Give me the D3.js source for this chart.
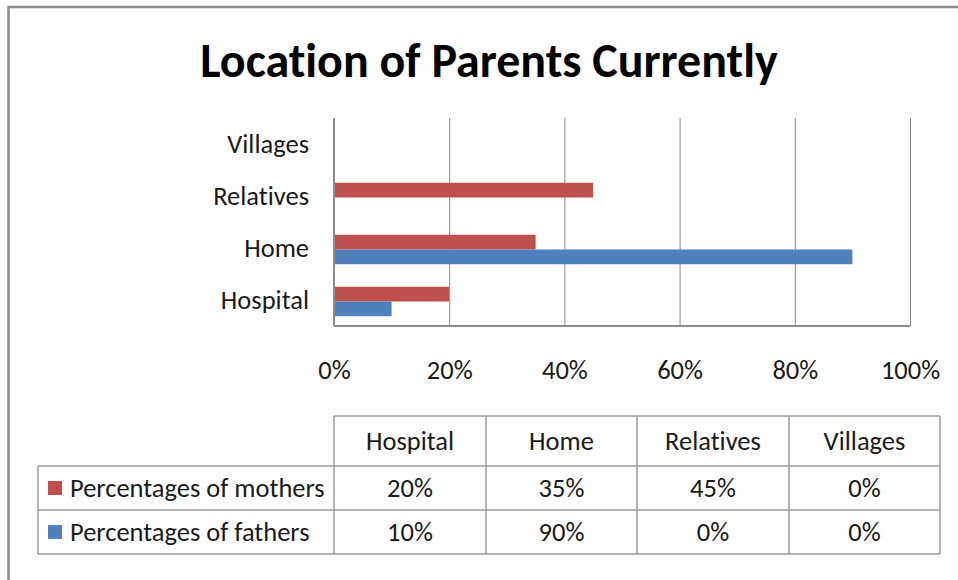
<!DOCTYPE html>
<html>
<head>
<meta charset="utf-8">
<script src="https://cdn.jsdelivr.net/npm/d3@7"></script>
<style>
    body { margin: 0; background: #fff; }
    svg text {
        font-family: "Carlito", "Liberation Sans Narrow", "Roboto", sans-serif;
        fill: #1a1a1a;
        font-variant-ligatures: none;
    }
</style>
</head>
<body>
<div id="chart"></div>
<script>
// Data
const categories = ['Hospital', 'Home', 'Relatives', 'Villages'];
const seriesNames = ['Percentages of mothers', 'Percentages of fathers'];
const mothers = [20, 35, 45, 0];
const fathers = [10, 90, 0, 0];
const xTicks = [0, 20, 40, 60, 80, 100];
const colors = ['#C0504D', '#4F81BD'];

function draw() {
    const dimensions = {
        width: 958,
        height: 580,
        plot: { left: 334, right: 910, top: 118, bottom: 326 },
        table: { cols: [38, 334, 486, 637, 789, 940], rows: [416, 466, 510, 554] },
    };
    const p = dimensions.plot;
    const series = [mothers, fathers];
    const fontSize = '26.5px';

    const svg = d3
        .select('#chart')
        .append('svg')
        .attr('width', dimensions.width)
        .attr('height', dimensions.height);

    // outer frame (right/bottom edges run off the picture)
    svg.append('rect')
        .attr('x', 8.5)
        .attr('y', 7)
        .attr('width', 1000)
        .attr('height', 600)
        .attr('fill', 'none')
        .attr('stroke', '#8c8c8c')
        .attr('stroke-width', 2.5);

    // Title
    svg.append('text')
        .attr('x', 489)
        .attr('y', 77)
        .attr('text-anchor', 'middle')
        .style('font-size', '48px')
        .style('font-weight', 'bold')
        .style('fill', '#000')
        .text('Location of Parents Currently');

    // Scales
    const xScale = d3.scaleLinear().domain([0, 100]).range([p.left, p.right]);
    const yScale = d3.scaleBand()
        .domain(categories.slice().reverse())
        .range([p.top + 1.5, p.bottom + 1.5]);
    const inner = d3.scaleBand()
        .domain([0, 1])
        .range([0, 29.5])
        ;
    const barOffset = (yScale.bandwidth() - inner.range()[1]) / 2;

    // Gridlines + tick labels
    const xAxis = d3.axisBottom(xScale)
        .tickValues(xTicks)
        .tickSize(-(p.bottom - p.top))
        .tickPadding(34)
        .tickFormat(d => d + '%');
    const xAxisGroup = svg.append('g')
        .attr('transform', `translate(0, ${p.bottom})`)
        .call(xAxis);
    xAxisGroup.select('.domain').remove();
    xAxisGroup.selectAll('line').attr('stroke', '#8c8c8c').attr('stroke-width', 1);
    xAxisGroup.selectAll('text')
        .style('font-size', fontSize)
        .attr('fill', '#1a1a1a');

    // axis lines
    svg.append('line')
        .attr('x1', p.left).attr('x2', p.left)
        .attr('y1', p.top).attr('y2', p.bottom)
        .attr('stroke', '#8c8c8c').attr('stroke-width', 2);
    svg.append('line')
        .attr('x1', p.left).attr('x2', p.right)
        .attr('y1', p.bottom).attr('y2', p.bottom)
        .attr('stroke', '#8c8c8c').attr('stroke-width', 2);

    // Bars
    series.forEach((values, s) => {
        svg.append('g')
            .selectAll('rect')
            .data(categories.map((c, i) => ({ c, v: values[i] })))
            .join('rect')
            .attr('x', p.left + 1)
            .attr('y', d => yScale(d.c) + barOffset + inner(s))
            .attr('width', d => Math.max(0, xScale(d.v) - p.left - 1))
            .attr('height', inner.bandwidth())
            .attr('fill', colors[s]);
    });

    // Category labels
    svg.append('g')
        .selectAll('text')
        .data(categories)
        .join('text')
        .attr('x', 309)
        .attr('y', d => yScale(d) + yScale.bandwidth() / 2 - 1.5)
        .attr('dy', '0.35em')
        .attr('text-anchor', 'end')
        .style('font-size', fontSize)
        .text(d => d);

    // Data table
    const t = dimensions.table;
    const tg = svg.append('g');
    const lineColor = '#9a9a9a';
    // horizontal lines
    t.rows.forEach((ry, i) => {
        tg.append('line')
            .attr('x1', i === 0 ? t.cols[1] : t.cols[0])
            .attr('x2', t.cols[t.cols.length - 1])
            .attr('y1', ry).attr('y2', ry)
            .attr('stroke', lineColor).attr('stroke-width', 1.5);
    });
    // vertical lines
    t.cols.forEach((cx, i) => {
        tg.append('line')
            .attr('x1', cx).attr('x2', cx)
            .attr('y1', i === 0 ? t.rows[1] : t.rows[0])
            .attr('y2', t.rows[t.rows.length - 1])
            .attr('stroke', lineColor).attr('stroke-width', 1.5);
    });

    const colCenter = i => (t.cols[i + 1] + t.cols[i + 2]) / 2;
    const rowCenter = i => (t.rows[i] + t.rows[i + 1]) / 2;

    tg.selectAll('.head')
        .data(categories)
        .join('text')
        .attr('x', (d, i) => colCenter(i))
        .attr('y', rowCenter(0))
        .attr('dy', '0.35em')
        .attr('text-anchor', 'middle')
        .style('font-size', fontSize)
        .text(d => d);

    series.forEach((values, s) => {
        const cy = rowCenter(s + 1);
        tg.append('rect')
            .attr('x', 48)
            .attr('y', cy - 7)
            .attr('width', 14)
            .attr('height', 14)
            .attr('fill', colors[s]);
        tg.append('text')
            .attr('x', 70)
            .attr('y', cy)
            .attr('dy', '0.35em')
            .style('font-size', fontSize)
            .text(seriesNames[s]);
        tg.append('g')
            .selectAll('text')
            .data(values)
            .join('text')
            .attr('x', (d, i) => colCenter(i))
            .attr('y', cy)
            .attr('dy', '0.35em')
            .attr('text-anchor', 'middle')
            .style('font-size', fontSize)
            .text(d => d + '%');
    });
}

draw();
</script>
</body>
</html>
